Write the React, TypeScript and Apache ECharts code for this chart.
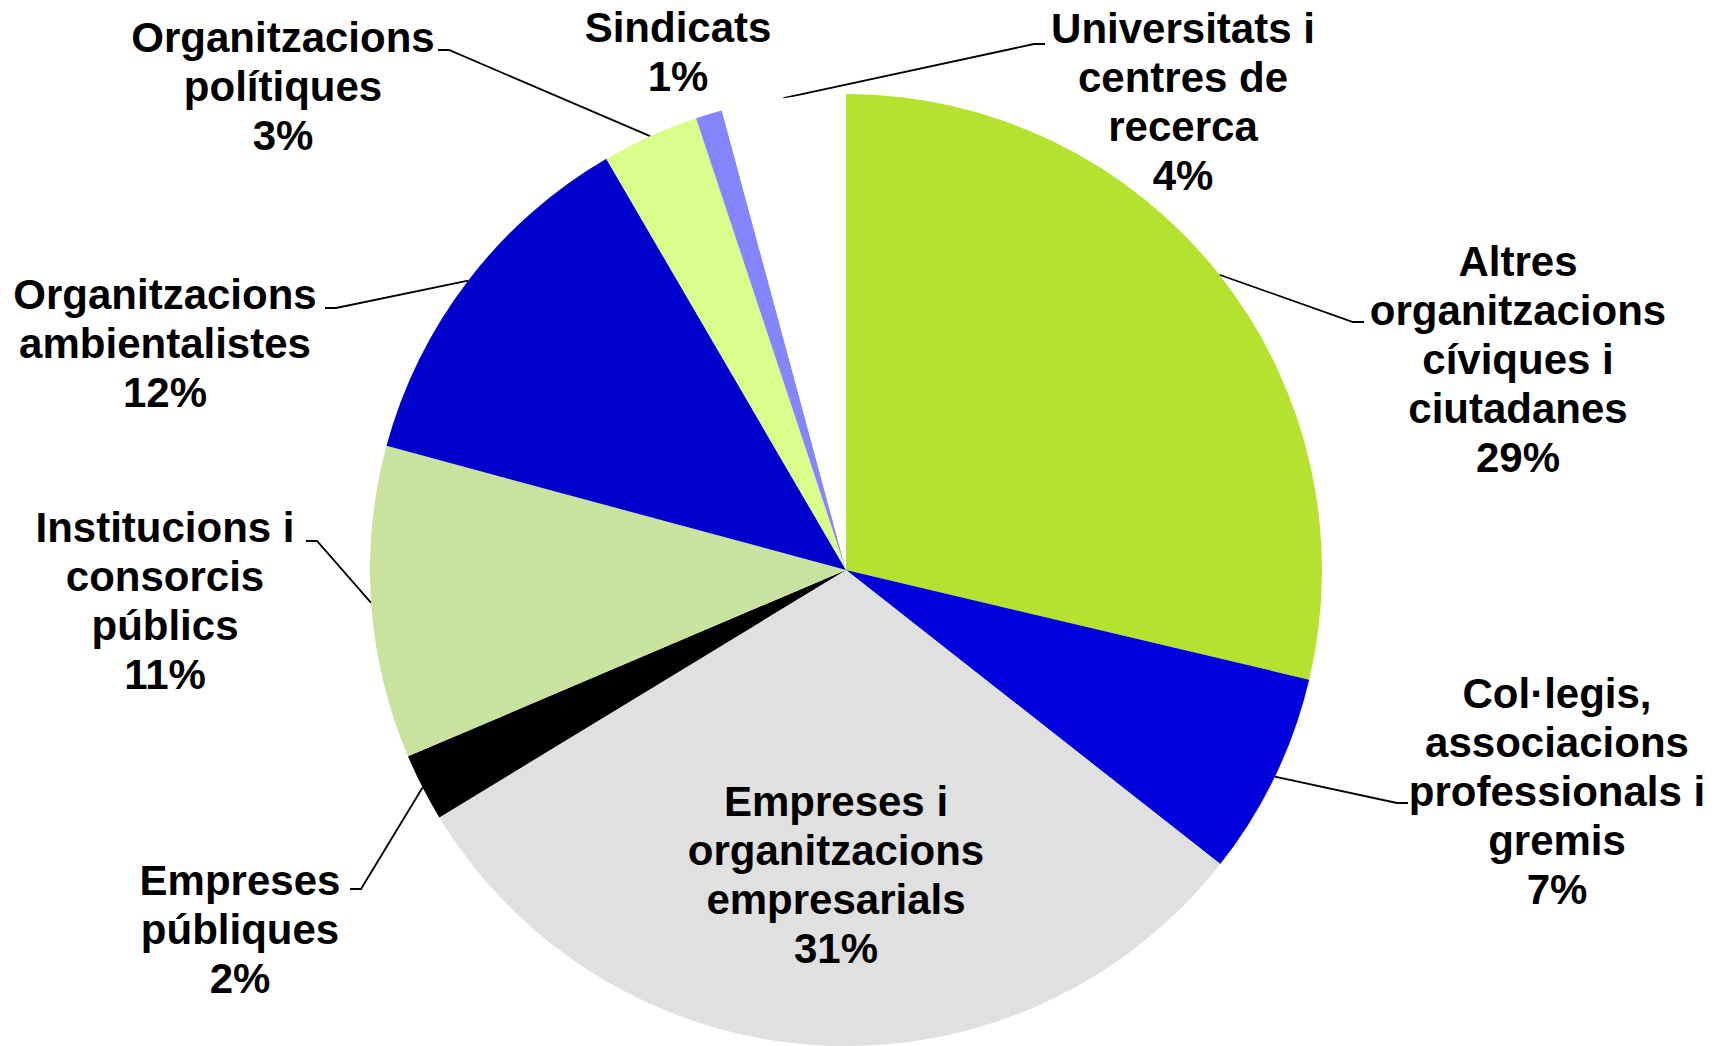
import React, { useEffect, useRef } from "react";
import * as echarts from "echarts";

// ---- data ----
const categories = [
  "Altres organitzacions cíviques i ciutadanes",
  "Col·legis, associacions professionals i gremis",
  "Empreses i organitzacions empresarials",
  "Empreses públiques",
  "Institucions i consorcis públics",
  "Organitzacions ambientalistes",
  "Organitzacions polítiques",
  "Sindicats",
  "Universitats i centres de recerca",
];
const labelNames = [
  "Altres\norganitzacions\ncíviques i\nciutadanes",
  "Col·legis,\nassociacions\nprofessionals i\ngremis",
  "Empreses i\norganitzacions\nempresarials",
  "Empreses\npúbliques",
  "Institucions i\nconsorcis\npúblics",
  "Organitzacions\nambientalistes",
  "Organitzacions\npolítiques",
  "Sindicats",
  "Universitats i\ncentres de\nrecerca",
];
const values = [28.7, 6.9, 30.7, 2.3, 10.6, 12.4, 3.3, 0.9, 4.2];
const colors = [
  "#B4E22E",
  "#0000DD",
  "#E0E0E0",
  "#000000",
  "#C9E29D",
  "#0000CC",
  "#D9FC8A",
  "#8585FF",
  "#FFFFFF",
];

// ---- layout (label anchors and leader-line elbows, px) ----
const labelCenters: [number, number][] = [
  [1518, 359],
  [1557, 791],
  [836, 875],
  [240, 929],
  [165, 601],
  [165, 343],
  [283, 86],
  [678, 52],
  [1183, 102],
];
const leaderElbows: ([number, number][] | null)[] = [
  [[1353, 322], [1364, 322]],
  [[1397, 803], [1408, 803]],
  null,
  [[361, 889], [350, 889]],
  [[317, 541], [306, 541]],
  [[336, 308], [325, 308]],
  [[449, 50], [438, 50]],
  null,
  [[1034, 44], [1045, 44]],
];

export default function App() {
  const ref = useRef<HTMLDivElement>(null);
  useEffect(() => {
    if (!ref.current) return;
    const chart = echarts.init(ref.current, undefined, { renderer: "svg" });
    const total = values.reduce((a, b) => a + b, 0);
    const data = categories.map((name, i) => ({
      name,
      value: values[i],
      itemStyle: { color: colors[i] },
      label: i === 2 ? { position: "inner" } : undefined,
      labelLine: { show: leaderElbows[i] !== null },
    }));
    chart.setOption({
      animation: false,
      backgroundColor: "#ffffff",
      series: [
        {
          type: "pie",
          center: [846, 570],
          radius: 476,
          startAngle: 90,
          clockwise: true,
          avoidLabelOverlap: false,
          silent: true,
          emphasis: { disabled: true },
          itemStyle: { borderWidth: 0 },
          data,
          label: {
            show: true,
            position: "outside",
            formatter: (p: any) =>
              labelNames[p.dataIndex] +
              "\n" +
              Math.round((values[p.dataIndex] / total) * 100) +
              "%",
            fontFamily: "'Liberation Sans', Arial, sans-serif",
            fontWeight: "bold",
            fontSize: 42,
            lineHeight: 49,
            color: "#000000",
            align: "center",
          },
          labelLine: {
            show: true,
            lineStyle: { color: "#000000", width: 1.8 },
          },
          labelLayout: (params: any) => {
            const i = params.dataIndex;
            const c = labelCenters[i];
            const res: any = {
              x: c[0],
              y: c[1],
              align: "center",
              verticalAlign: "middle",
            };
            const el = leaderElbows[i];
            if (el && params.labelLinePoints && params.labelLinePoints[0]) {
              res.labelLinePoints = [
                params.labelLinePoints[0],
                el[0],
                el[1],
              ];
            }
            return res;
          },
        },
      ],
    });
    return () => chart.dispose();
  }, []);
  return (
    <div
      ref={ref}
      style={{
        position: "fixed",
        left: 0,
        top: 0,
        width: 1725,
        height: 1046,
        background: "#fff",
      }}
    />
  );
}
